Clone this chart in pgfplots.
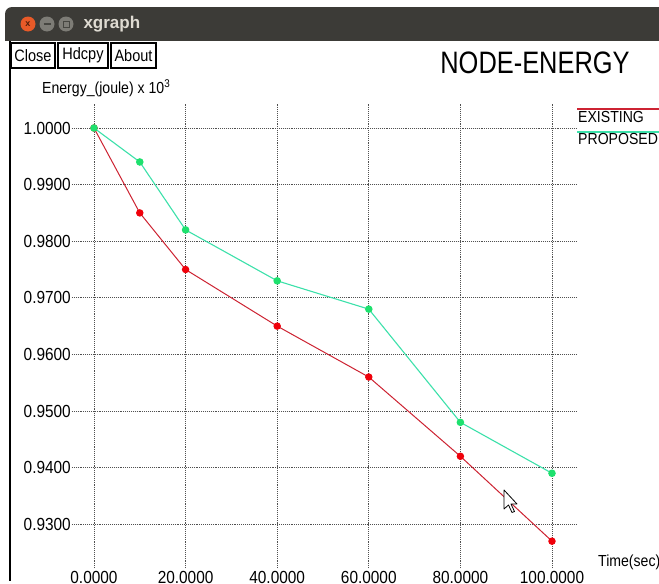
\documentclass[border=0pt]{standalone}
\usepackage{pgfplots}
\pgfplotsset{compat=1.18}
\usepackage{fontspec}
\setmainfont[FakeStretch=0.88]{Liberation Sans}
\newfontfamily\titlefont[FakeStretch=0.82]{Liberation Sans}
\newfontfamily\barfont{Liberation Sans}
\definecolor{titlebar}{RGB}{60,59,55}
\definecolor{closebtn}{RGB}{232,90,40}
\definecolor{closex}{RGB}{80,30,10}
\definecolor{minbtn}{RGB}{125,124,118}
\definecolor{minsym}{RGB}{70,70,65}
\definecolor{bartext}{RGB}{223,219,210}
\definecolor{exline}{RGB}{205,35,50}
\definecolor{exmark}{RGB}{240,0,10}
\definecolor{prline}{RGB}{60,225,170}
\definecolor{prmark}{RGB}{30,225,110}
\definecolor{gridc}{RGB}{80,80,80}
\begin{document}
\begin{tikzpicture}
\begin{scope}[x=1pt,y=-1pt]
\clip (0,0) rectangle (659,581);
\fill[white] (0,0) rectangle (659,581);
\fill[titlebar, rounded corners=7pt] (5,7) rectangle (690,60);
\fill[white] (0,41) rectangle (659,581);
\fill[closebtn] (28,24) circle (7.5);
\node[text=closex, font=\barfont\fontsize{9}{9}\selectfont\bfseries] at (28,24) {x};
\fill[minbtn] (47,24) circle (7.5);
\fill[minbtn] (66,24) circle (7.5);
\draw[minsym, line width=1.2pt] (43.5,24) -- (50.5,24);
\draw[minsym, line width=1pt] (63,21) rectangle (69,27);
\node[anchor=west, text=bartext, font=\barfont\fontsize{17}{17}\selectfont\bfseries] at (80,24) {xgraph};
\draw[line width=1.5pt] (10,41) -- (10,581);
\draw[line width=1.2pt] (11,43) rectangle (55,68);
\node[font=\fontsize{16.5}{16.5}\selectfont] at (33,55.5) {Close};
\draw[line width=1.2pt] (58,43) rectangle (108,68);
\node[font=\fontsize{16.5}{16.5}\selectfont] at (83,55.5) {Hdcpy};
\draw[line width=1.2pt] (111,43) rectangle (156,68);
\node[font=\fontsize{16.5}{16.5}\selectfont] at (133.5,55.5) {About};
\node[font=\titlefont\fontsize{31}{31}\selectfont] at (535,63) {NODE-ENERGY};
\node[anchor=west, font=\fontsize{16}{16}\selectfont, inner sep=0pt] at (42,88) {Energy\_(joule) x 10\textsuperscript{3}};
\draw[exline, line width=1.5pt] (577,109) -- (665,109);
\node[anchor=west, font=\fontsize{16}{16}\selectfont, inner sep=0pt] at (578,117) {EXISTING};
\draw[prline, line width=1.8pt] (577,132) -- (665,132);
\node[anchor=west, font=\fontsize{16}{16}\selectfont, inner sep=0pt] at (578,139) {PROPOSED};
\node[anchor=west, font=\fontsize{16}{16}\selectfont, inner sep=0pt] at (598,562) {Time(sec)};
\end{scope}
\begin{axis}[
  at={(72pt,-568pt)}, anchor=south west,
  scale only axis, width=505pt, height=465pt,
  xmin=-4.8, xmax=105.46, ymin=0.92226, ymax=1.00442,
  clip=false,
  axis line style={draw=none},
  tick style={draw=none},
  grid=major,
  major grid style={gridc, line width=0.9pt, densely dotted},
  xtick={0,20,40,60,80,100},
  ytick={0.93,0.94,0.95,0.96,0.97,0.98,0.99,1.0},
  /pgf/number format/.cd, fixed, fixed zerofill, precision=4, assume math mode=true,
  /pgfplots/.cd,
  tick label style={font=\fontsize{17.5}{17.5}\selectfont, inner sep=0pt},
  yticklabel style={anchor=east, xshift=-1pt},
  xticklabel style={anchor=north, yshift=-3pt},
]
\addplot[exline, line width=1pt, mark=*, mark size=3.2pt, mark options={exmark, fill=exmark, draw=exmark}] coordinates {
(0,1.0) (10,0.985) (20,0.975) (40,0.965) (60,0.956) (80,0.942) (100,0.927)};
\addplot[prline, line width=1.1pt, mark=*, mark size=3.2pt, mark options={prmark, fill=prmark, draw=prmark}] coordinates {
(0,1.0) (10,0.994) (20,0.982) (40,0.973) (60,0.968) (80,0.948) (100,0.939)};
\end{axis}
\begin{scope}[x=1pt,y=-1pt]
\draw[fill=white, line width=0.8pt, line join=round] (504,490) -- (504,509) -- (508.5,505) -- (512,512.5) -- (514.5,511.5) -- (511,504) -- (517,504) -- cycle;
\end{scope}
\end{tikzpicture}
\end{document}
